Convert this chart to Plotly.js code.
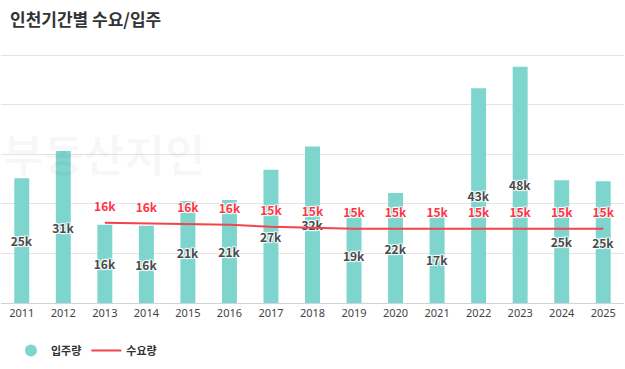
<!DOCTYPE html>
<html><head><meta charset="utf-8">
<script src="https://cdn.plot.ly/plotly-3.0.1.min.js"></script>
<style>html,body{margin:0;padding:0;background:#fff}#c{width:625px;height:369px}</style>
</head><body><div id="c"></div>
<script>
const years = ['2011','2012','2013','2014','2015','2016','2017','2018','2019','2020','2021','2022','2023','2024','2025'];
const supply = [25.2, 30.7, 15.8, 15.6, 20.6, 20.8, 26.9, 31.6, 19.0, 22.2, 17.4, 43.4, 47.7, 24.8, 24.6];
const demand = [null, null, 16.2, 16.1, 16.0, 15.8, 15.4, 15.2, 15.0, 15.0, 15.0, 15.1, 15.1, 15.0, 15.0];
const seriesNames = ['입주량', '수요량'];

const KR = '"Noto Sans CJK KR", "Noto Sans", sans-serif';
const halo = '1px 1px 1px #fff, -1px -1px 1px #fff, 1px -1px 1px #fff, -1px 1px 1px #fff';
const teal = '#7dd5ce', red = '#f5434b';

const traces = [
  {type:'bar', x:years, y:supply, width:0.36, marker:{color:teal}, showlegend:false,
   text:supply.map(v=>Math.round(v)+'k'), textposition:'inside', insidetextanchor:'middle',
   constraintext:'none', textangle:0,
   textfont:{family:KR, size:12, color:'#4a4a4a', weight:'bold', shadow:halo}, hoverinfo:'skip'},
  {type:'scatter', mode:'lines+markers+text', x:years, y:demand, line:{color:red, width:2}, showlegend:false,
   marker:{size:12, opacity:0, color:red},
   text:demand.map(v=>v==null?'':Math.round(v)+'k'), textposition:'top center',
   textfont:{family:KR, size:12, color:'#ff3344', weight:'bold', shadow:halo}, hoverinfo:'skip', cliponaxis:false},
  {type:'scatter', mode:'markers', x:[null], y:[null], name:seriesNames[0],
   marker:{color:teal, size:12, symbol:'circle'}},
  {type:'scatter', mode:'lines', x:[null], y:[null], name:seriesNames[1],
   line:{color:red, width:2}}
];

const layout = {
  width:625, height:369,
  margin:{l:1, r:1, t:53, b:66},
  paper_bgcolor:'#fff', plot_bgcolor:'#fff',
  font:{family:KR, color:'#444'},
  title:{text:'인천기간별 수요/입주', x:0.016, xanchor:'left', y:0.945, yanchor:'middle',
    font:{family:KR, size:17, color:'#333', weight:'bold'}},
  xaxis:{type:'category', range:[-0.5,14.5], showgrid:false, showline:true, linecolor:'#d0d4d8', linewidth:1,
    ticks:'', tickfont:{family:'"Noto Sans", sans-serif', size:11, color:'#444'}, fixedrange:true},
  yaxis:{range:[0,50.5], dtick:10, showticklabels:false, gridcolor:'#e4e4e4', gridwidth:1, zeroline:false, fixedrange:true},
  legend:{orientation:'h', x:0.016, xanchor:'left', y:-0.19, yanchor:'middle',
    font:{family:KR, size:11, color:'#333', weight:'bold'}, itemwidth:30},
  annotations:[
    {xref:'paper', yref:'paper', x:0.0, y:0.6, xanchor:'left', yanchor:'middle', showarrow:false,
     text:'부동산지인', font:{family:KR, size:44, color:'rgba(0,0,0,0.03)', weight:'bold'}}
  ]
};
Plotly.newPlot('c', traces, layout, {displayModeBar:false, staticPlot:true});
</script></body></html>
